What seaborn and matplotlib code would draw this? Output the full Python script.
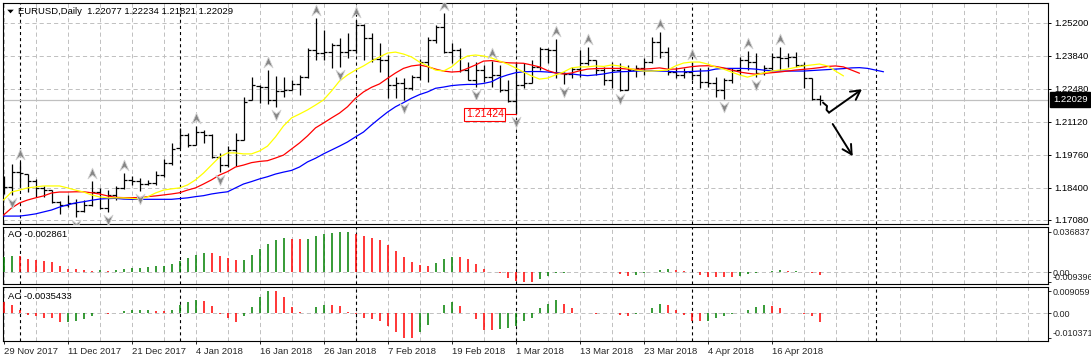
import numpy as np
import pandas as pd
import matplotlib
matplotlib.use("Agg")
import matplotlib.pyplot as plt
import seaborn as sns
from matplotlib.path import Path
from matplotlib.transforms import blended_transform_factory

sns.set_style("white")
plt.rcParams['font.family'] = ['Liberation Sans', 'DejaVu Sans']
plt.rcParams['lines.scale_dashes'] = False

# ---------------- data ----------------
symbol = "EURUSD"
timeframe = "Daily"

opens = [1.1864, 1.1844, 1.1905, 1.1897, 1.1868, 1.1840, 1.1831, 1.1782, 1.1770, 1.1778,
         1.1745, 1.1770, 1.1823, 1.1757, 1.1811, 1.1840, 1.1873, 1.1868, 1.1856, 1.1860,
         1.1893, 1.1942, 1.2004, 1.2058, 1.2017, 1.2070, 1.2058, 1.1967, 1.1934, 1.1996,
         1.2037, 1.2202, 1.2260, 1.2255, 1.2202, 1.2239, 1.2243, 1.2268, 1.2296, 1.2408,
         1.2395, 1.2399, 1.2428, 1.2399, 1.2408, 1.2510, 1.2457, 1.2370, 1.2366, 1.2264,
         1.2272, 1.2251, 1.2296, 1.2358, 1.2449, 1.2502, 1.2399, 1.2408, 1.2325, 1.2284,
         1.2325, 1.2296, 1.2305, 1.2243, 1.2198, 1.2264, 1.2272, 1.2338, 1.2412, 1.2408,
         1.2313, 1.2309, 1.2329, 1.2354, 1.2366, 1.2325, 1.2284, 1.2325, 1.2243, 1.2325,
         1.2333, 1.2358, 1.2441, 1.2399, 1.2317, 1.2305, 1.2317, 1.2305, 1.2276, 1.2272,
         1.2243, 1.2284, 1.2325, 1.2366, 1.2358, 1.2313, 1.2333, 1.2379, 1.2375, 1.2379,
         1.2346, 1.2292, 1.22077]
highs = [1.1889, 1.1938, 1.1947, 1.1897, 1.1877, 1.1848, 1.1831, 1.1786, 1.1811, 1.1794,
         1.1790, 1.1868, 1.1840, 1.1831, 1.1848, 1.1901, 1.1889, 1.1881, 1.1873, 1.1910,
         1.1959, 1.2025, 1.2087, 1.2066, 1.2095, 1.2078, 1.2062, 1.1984, 1.2012, 1.2066,
         1.2214, 1.2296, 1.2264, 1.2325, 1.2301, 1.2296, 1.2284, 1.2305, 1.2416, 1.2539,
         1.2490, 1.2436, 1.2457, 1.2478, 1.2531, 1.2515, 1.2478, 1.2436, 1.2387, 1.2296,
         1.2292, 1.2305, 1.2371, 1.2461, 1.2510, 1.2560, 1.2436, 1.2416, 1.2358, 1.2358,
         1.2346, 1.2362, 1.2346, 1.2284, 1.2358, 1.2354, 1.2366, 1.2420, 1.2416, 1.2453,
         1.2317, 1.2338, 1.2408, 1.2420, 1.2366, 1.2338, 1.2358, 1.2354, 1.2346, 1.2346,
         1.2375, 1.2461, 1.2482, 1.2420, 1.2338, 1.2334, 1.2358, 1.2334, 1.2338, 1.2296,
         1.2292, 1.2334, 1.2379, 1.2404, 1.2395, 1.2346, 1.2395, 1.2420, 1.2395, 1.2399,
         1.2358, 1.2292, 1.22234]
lows = [1.1815, 1.1811, 1.1844, 1.1823, 1.1803, 1.1803, 1.1778, 1.1733, 1.1761, 1.1720,
        1.1741, 1.1766, 1.1753, 1.1741, 1.1790, 1.1836, 1.1852, 1.1827, 1.1852, 1.1852,
        1.1885, 1.1934, 1.2004, 1.2008, 1.2017, 1.2025, 1.1963, 1.1905, 1.1926, 1.1930,
        1.2037, 1.2202, 1.2189, 1.2185, 1.2173, 1.2214, 1.2243, 1.2222, 1.2292, 1.2366,
        1.2366, 1.2334, 1.2338, 1.2375, 1.2395, 1.2366, 1.2358, 1.2317, 1.2210, 1.2210,
        1.2202, 1.2243, 1.2284, 1.2276, 1.2436, 1.2395, 1.2354, 1.2317, 1.2284, 1.2255,
        1.2276, 1.2255, 1.2235, 1.2194, 1.21424, 1.2251, 1.2272, 1.2325, 1.2354, 1.2292,
        1.2268, 1.2292, 1.2296, 1.2346, 1.2305, 1.2264, 1.2251, 1.2239, 1.2243, 1.2296,
        1.2305, 1.2354, 1.2375, 1.2305, 1.2292, 1.2292, 1.2284, 1.2251, 1.2255, 1.2214,
        1.2206, 1.2272, 1.2305, 1.2325, 1.2296, 1.2305, 1.2325, 1.2325, 1.2338, 1.2338,
        1.2251, 1.2202, 1.21821]
closes = [1.1844, 1.1905, 1.1901, 1.1868, 1.1840, 1.1831, 1.1782, 1.1770, 1.1778, 1.1745,
          1.1770, 1.1823, 1.1757, 1.1811, 1.1840, 1.1873, 1.1868, 1.1856, 1.1860, 1.1893,
          1.1942, 1.2000, 1.2058, 1.2017, 1.2070, 1.2058, 1.1967, 1.1934, 1.1996, 1.2037,
          1.2194, 1.2264, 1.2255, 1.2202, 1.2239, 1.2243, 1.2268, 1.2296, 1.2408, 1.2395,
          1.2399, 1.2428, 1.2399, 1.2408, 1.2510, 1.2457, 1.2370, 1.2366, 1.2264, 1.2272,
          1.2251, 1.2296, 1.2358, 1.2449, 1.2502, 1.2399, 1.2408, 1.2325, 1.2284, 1.2325,
          1.2296, 1.2305, 1.2243, 1.2198, 1.2264, 1.2272, 1.2338, 1.2412, 1.2408, 1.2313,
          1.2309, 1.2329, 1.2354, 1.2366, 1.2325, 1.2284, 1.2325, 1.2243, 1.2325, 1.2333,
          1.2358, 1.2441, 1.2399, 1.2317, 1.2305, 1.2317, 1.2305, 1.2276, 1.2272, 1.2243,
          1.2284, 1.2325, 1.2366, 1.2358, 1.2313, 1.2333, 1.2379, 1.2375, 1.2379, 1.2346,
          1.2292, 1.2206, 1.22029]

# Alligator lines (shifted into the future)
lips = [1.1790, 1.1823, 1.1831, 1.1840, 1.1844, 1.1848, 1.1848, 1.1848, 1.1840, 1.1831,
        1.1823, 1.1811, 1.1803, 1.1799, 1.1799, 1.1799, 1.1797, 1.1794, 1.1803, 1.1819,
        1.1831, 1.1836, 1.1840, 1.1852, 1.1873, 1.1901, 1.1934, 1.1967, 1.1984, 1.1984,
        1.1980, 1.1980, 1.1992, 1.2012, 1.2050, 1.2095, 1.2128, 1.2144, 1.2161, 1.2181,
        1.2202, 1.2239, 1.2280, 1.2305, 1.2325, 1.2342, 1.2362, 1.2379, 1.2395, 1.2399,
        1.2391, 1.2379, 1.2358, 1.2342, 1.2325, 1.2321, 1.2338, 1.2366, 1.2383, 1.2387,
        1.2383, 1.2375, 1.2362, 1.2350, 1.2334, 1.2317, 1.2301, 1.2288, 1.2292, 1.2305,
        1.2317, 1.2334, 1.2338, 1.2338, 1.2342, 1.2340, 1.2346, 1.2342, 1.2334, 1.2325,
        1.2321, 1.2321, 1.2323, 1.2325, 1.2342, 1.2354, 1.2358, 1.2358, 1.2350, 1.2338,
        1.2329, 1.2317, 1.2305, 1.2296, 1.2305, 1.2313, 1.2321, 1.2325, 1.2329, 1.2336,
        1.2342, 1.2346, 1.2350, 1.2342, 1.2321, 1.2301]
teeth = [1.1728, 1.1757, 1.1778, 1.1790, 1.1799, 1.1807, 1.1819, 1.1823, 1.1823, 1.1824,
         1.1824, 1.1820, 1.1815, 1.1807, 1.1801, 1.1800, 1.1800, 1.1800, 1.1804, 1.1807,
         1.1811, 1.1815, 1.1820, 1.1831, 1.1840, 1.1856, 1.1873, 1.1893, 1.1907, 1.1926,
         1.1934, 1.1944, 1.1949, 1.1952, 1.1963, 1.1975, 1.2000, 1.2025, 1.2054, 1.2087,
         1.2107, 1.2128, 1.2148, 1.2174, 1.2209, 1.2235, 1.2254, 1.2268, 1.2291, 1.2313,
         1.2332, 1.2342, 1.2346, 1.2339, 1.2329, 1.2321, 1.2317, 1.2319, 1.2332, 1.2346,
         1.2362, 1.2364, 1.2359, 1.2355, 1.2354, 1.2353, 1.2346, 1.2338, 1.2323, 1.2313,
         1.2309, 1.2313, 1.2322, 1.2329, 1.2331, 1.2332, 1.2332, 1.2332, 1.2329, 1.2328,
         1.2329, 1.2331, 1.2334, 1.2329, 1.2329, 1.2334, 1.2339, 1.2342, 1.2343, 1.2340,
         1.2334, 1.2325, 1.2317, 1.2312, 1.2308, 1.2311, 1.2314, 1.2317, 1.2321, 1.2325,
         1.2328, 1.2331, 1.2335, 1.2340, 1.2342, 1.2338, 1.2325, 1.2312]
jaw = [1.1724, 1.1724, 1.1724, 1.1728, 1.1733, 1.1741, 1.1749, 1.1761, 1.1770, 1.1778,
       1.1783, 1.1789, 1.1794, 1.1796, 1.1797, 1.1794, 1.1793, 1.1793, 1.1793, 1.1793,
       1.1793, 1.1793, 1.1796, 1.1799, 1.1804, 1.1808, 1.1815, 1.1820, 1.1824, 1.1840,
       1.1856, 1.1866, 1.1877, 1.1886, 1.1897, 1.1905, 1.1912, 1.1926, 1.1947, 1.1962,
       1.1980, 1.1996, 1.2012, 1.2029, 1.2050, 1.2070, 1.2099, 1.2126, 1.2152, 1.2174,
       1.2191, 1.2209, 1.2224, 1.2235, 1.2250, 1.2255, 1.2261, 1.2264, 1.2266, 1.2266,
       1.2270, 1.2277, 1.2294, 1.2305, 1.2314, 1.2318, 1.2319, 1.2319, 1.2317, 1.2314,
       1.2312, 1.2309, 1.2305, 1.2302, 1.2305, 1.2309, 1.2315, 1.2318, 1.2319, 1.2321,
       1.2321, 1.2322, 1.2321, 1.2320, 1.2318, 1.2318, 1.2319, 1.2321, 1.2322, 1.2329,
       1.2332, 1.2332, 1.2332, 1.2331, 1.2329, 1.2325, 1.2322, 1.2321, 1.2321, 1.2321,
       1.2321, 1.2323, 1.2325, 1.2327, 1.2329, 1.2331, 1.2334, 1.2335, 1.2332, 1.2325,
       1.2318]

ao = [0.0138, 0.0147, 0.0144, 0.0120, 0.0114, 0.0101, 0.0092, 0.0055, 0.0031, 0.0025,
      0.0018, 0.0015, 0.0021, 0.0009, 0.0021, 0.0028, 0.0037, 0.0040, 0.0049, 0.0055,
      0.0058, 0.0077, 0.0104, 0.0129, 0.0157, 0.0178, 0.0175, 0.0147, 0.0132, 0.0111,
      0.0114, 0.0157, 0.0215, 0.0261, 0.0292, 0.0313, 0.0307, 0.0301, 0.0304, 0.0332,
      0.0353, 0.0359, 0.0366, 0.036837, 0.0353, 0.0335, 0.0313, 0.0298, 0.0252, 0.0193,
      0.0138, 0.0092, 0.0068, 0.0052, 0.0086, 0.0117, 0.0138, 0.0136, 0.0117, 0.0077,
      0.0031, 0.0006, -0.0012, -0.0052, -0.0080, -0.0090, -0.009396, -0.0061, -0.0031, -0.0012,
      -0.0004, 0.0002, 0.0004, 0.0003, 0.0001, 0.0003, 0.0004, -0.0015, -0.0035, -0.0022,
      -0.0012, 0.0000, 0.0020, 0.0028, 0.0021, 0.0009, -0.0001, -0.0025, -0.0040, -0.0041,
      -0.0046, -0.0047, -0.0037, -0.0015, -0.0006, 0.0000, 0.0009, 0.0018, 0.0009, 0.0010,
      0.0006, -0.0005, -0.002861]
ac = [0.0045, 0.0033, 0.0014, -0.0007, -0.0014, -0.0019, -0.0022, -0.0036, -0.0035, -0.0034,
      -0.0026, -0.0014, -0.0002, -0.0004, 0.0002, 0.0010, 0.0011, 0.0012, 0.0014, 0.0010,
      0.0009, 0.0014, 0.0032, 0.0045, 0.0055, 0.0050, 0.0027, -0.0003, -0.0019, -0.0036,
      -0.0014, 0.0023, 0.0066, 0.009059, 0.0089, 0.0066, 0.0024, 0.0003, 0.0001, 0.0023,
      0.0032, 0.0031, 0.0027, 0.0006, -0.0005, -0.0020, -0.0024, -0.0033, -0.0052, -0.0079,
      -0.0101, -0.010371, -0.0079, -0.0049, 0.0001, 0.0035, 0.0045, 0.0027, 0.0000, -0.0024,
      -0.0070, -0.0071, -0.0065, -0.0063, -0.0053, -0.0032, -0.0019, 0.0019, 0.0036, 0.0055,
      0.0036, 0.0019, 0.0001, 0.0000, -0.0004, -0.0002, -0.0001, -0.0007, -0.0014, -0.0006,
      0.0000, 0.0019, 0.0036, 0.0032, 0.0014, -0.0010, -0.0032, -0.0033, -0.0031, -0.0022,
      -0.0013, -0.0004, 0.0001, 0.0014, 0.0026, 0.0032, 0.0029, 0.0019, 0.0001, 0.0000,
      -0.0003, -0.0013, -0.0035433]

fractal_up_bars = [2, 11, 15, 24, 33, 39, 44, 55, 61, 69, 73, 82, 86, 93, 97]
fractal_down_bars = [1, 9, 13, 17, 27, 34, 42, 50, 59, 64, 70, 77, 90, 94]

date_labels = ["29 Nov 2017", "11 Dec 2017", "21 Dec 2017", "4 Jan 2018", "16 Jan 2018",
               "26 Jan 2018", "7 Feb 2018", "19 Feb 2018", "1 Mar 2018", "13 Mar 2018",
               "23 Mar 2018", "4 Apr 2018", "16 Apr 2018"]
date_label_bars = [0, 8, 16, 24, 32, 40, 48, 56, 64, 72, 80, 88, 96]
month_start_bars = [2, 22, 44, 64, 86, 109]

price_levels = [1.25200, 1.23840, 1.22480, 1.21120, 1.19760, 1.18400, 1.17080]
last_price = 1.22029
low_mark_bar = 64
low_mark_price = 1.21424
ao_levels = [0.036837, 0.0, -0.009396]
ac_levels = [0.009059, 0.0, -0.010371]

# hand-drawn annotation strokes (bar index, price)
squiggle_bars = [102.44, 102.94, 102.88, 103.19]
squiggle_prices = [1.2191, 1.2177, 1.2161, 1.2150]
arrow_up_tip = (107.31, 1.2246)
arrow_down_start = (103.65, 1.2103)
arrow_down_tip = (106.15, 1.1971)

# ---------------- style ----------------
GRID = "#C0C0C0"
GREEN = "#008000"
RED = "#FF0000"
FS = 6.8
FS_OSC = 6.5
GRID_LS = (0, (3.0, 2.2))
SEP_LS = (0, (2.2, 2.2))

W, H = 1091.0, 357.0
fig = plt.figure(figsize=(W / 100, H / 100), dpi=100)
fig.patch.set_facecolor("white")


def rect(left, top, right, bottom):
    return [left / W, 1 - bottom / H, (right - left) / W, (bottom - top) / H]


ax = fig.add_axes(rect(3, 3, 1048, 224))
ax_ao = fig.add_axes(rect(3, 227, 1048, 284))
ax_ac = fig.add_axes(rect(3, 287, 1048, 341))

XL = (-0.0625, 130.5625)
grid_bars = np.arange(0, 131, 4)

for a in (ax, ax_ao, ax_ac):
    a.set_xlim(*XL)
    a.set_facecolor("white")
    for s in a.spines.values():
        s.set_color("black")
        s.set_linewidth(0.8)
    a.vlines(grid_bars, 0, 1, transform=a.get_xaxis_transform(), colors=GRID,
             linestyles=[GRID_LS], lw=0.7, zorder=0)
    for m in month_start_bars:
        a.axvline(m, color="black", lw=0.8, ls=SEP_LS, zorder=1)
    a.tick_params(axis="x", bottom=False, labelbottom=False)

# ---------------- main price panel ----------------
ax.set_ylim(1.16914, 1.26011)
for lv in price_levels:
    ax.axhline(lv, color=GRID, lw=0.7, ls=GRID_LS, zorder=0)
ax.axhline(last_price, color="#C0C0C0", lw=0.9, zorder=1)

xb = np.arange(len(opens))
tick = 0.4
ax.vlines(xb, lows, highs, colors="black", lw=0.9, zorder=3)
ax.hlines(opens, xb - tick, xb, colors="black", lw=0.9, zorder=3)
ax.hlines(closes, xb, xb + tick, colors="black", lw=0.9, zorder=3)

ma = pd.concat([
    pd.DataFrame({"bar": np.arange(len(jaw)), "value": jaw, "line": "jaw"}),
    pd.DataFrame({"bar": np.arange(len(teeth)), "value": teeth, "line": "teeth"}),
    pd.DataFrame({"bar": np.arange(len(lips)), "value": lips, "line": "lips"}),
], ignore_index=True)
sns.lineplot(data=ma, x="bar", y="value", hue="line", hue_order=["jaw", "teeth", "lips"],
             palette={"jaw": "#0000FF", "teeth": "#FF0000", "lips": "#FFFF00"},
             linewidth=0.9, legend=False, estimator=None, sort=False, ax=ax, zorder=4)
ax.set_xlabel("")
ax.set_ylabel("")
ax.set_xlim(*XL)

# fractal arrows
up_marker = Path([(0, 0.5), (0.42, -0.5), (0, -0.15), (-0.42, -0.5), (0, 0.5)],
                 [Path.MOVETO, Path.LINETO, Path.LINETO, Path.LINETO, Path.CLOSEPOLY])
down_marker = Path([(0, -0.5), (0.42, 0.5), (0, 0.15), (-0.42, 0.5), (0, -0.5)],
                   [Path.MOVETO, Path.LINETO, Path.LINETO, Path.LINETO, Path.CLOSEPOLY])
off = 0.0033
hi = np.array(highs)
lo = np.array(lows)
ax.scatter(fractal_up_bars, hi[fractal_up_bars] + off, marker=up_marker, s=60,
           c="#858585", edgecolors="#D2D2D2", linewidths=0.6, zorder=6)
ax.scatter(fractal_down_bars, lo[fractal_down_bars] - off, marker=down_marker, s=60,
           c="#858585", edgecolors="#D2D2D2", linewidths=0.6, zorder=6)

# low price label
ax.plot([62.75, low_mark_bar], [low_mark_price, low_mark_price], color=RED, lw=0.8, zorder=7)
ax.text(62.55, low_mark_price, f"{low_mark_price:.5f}", ha="right", va="center",
        fontsize=7.5, color=RED, zorder=8,
        bbox=dict(boxstyle="square,pad=0.15", fc="white", ec=RED, lw=0.8))

# hand drawn arrows
ax.plot(squiggle_bars, squiggle_prices, color="black", lw=1.4, zorder=8,
        solid_capstyle="round", solid_joinstyle="round")
ax.annotate("", xy=arrow_up_tip, xytext=(squiggle_bars[-1], squiggle_prices[-1]),
            arrowprops=dict(arrowstyle="->,head_length=0.55,head_width=0.3", color="black",
                            lw=1.4, shrinkA=0, shrinkB=0, mutation_scale=12), zorder=8)
ax.annotate("", xy=arrow_down_tip, xytext=arrow_down_start,
            arrowprops=dict(arrowstyle="->,head_length=0.55,head_width=0.3", color="black",
                            lw=1.4, shrinkA=0, shrinkB=0, mutation_scale=12), zorder=8)

# right price axis
ax.yaxis.tick_right()
ax.set_yticks(price_levels)
ax.set_yticklabels([f"{v:.5f}" for v in price_levels])
ax.tick_params(axis="y", direction="out", length=2.5, width=0.7, pad=2, labelsize=FS,
               colors="black")
trans = blended_transform_factory(ax.transAxes, ax.transData)
ax.text(1.0048, last_price, f"{last_price:.5f}", transform=trans, ha="left", va="center",
        fontsize=FS, color="white", clip_on=False, zorder=10,
        bbox=dict(boxstyle="square,pad=0.3", fc="black", ec="black"))

# header
tri = Path([(-0.5, 0.28), (0.5, 0.28), (0, -0.28), (-0.5, 0.28)],
           [Path.MOVETO, Path.LINETO, Path.LINETO, Path.CLOSEPOLY])
ax.scatter([0.0067], [0.9638], transform=ax.transAxes, marker=tri, s=22, c="black",
           linewidths=0, zorder=9)
header = f"{symbol},{timeframe}  " + " ".join(
    f"{v:.5f}" for v in (opens[-1], highs[-1], lows[-1], closes[-1]))
ax.text(0.0144, 0.9638, header, transform=ax.transAxes, ha="left", va="center",
        fontsize=FS, color="black", zorder=9)


# ---------------- oscillator panels ----------------
def bar_colors(vals, first):
    cols = [first]
    for i in range(1, len(vals)):
        cols.append(GREEN if vals[i] > vals[i - 1] else RED)
    return cols


def fmt_level(v):
    return "0.00" if v == 0 else f"{v:.6f}"


for a, vals, levels, lim, first, name in (
        (ax_ao, ao, ao_levels, (-0.0108, 0.0413), GREEN, "AO"),
        (ax_ac, ac, ac_levels, (-0.01153, 0.01071), RED, "AC")):
    a.set_ylim(*lim)
    a.axhline(0, color=GRID, lw=0.7, ls=GRID_LS, zorder=0)
    xs = np.arange(len(vals))
    a.vlines(xs, 0, vals, colors=bar_colors(vals, first), lw=1.1, zorder=3)
    a.yaxis.tick_right()
    a.set_yticks(levels)
    a.set_yticklabels([fmt_level(v) for v in levels])
    a.tick_params(axis="y", direction="out", length=2.0, width=0.7, pad=1.2,
                  labelsize=FS_OSC)
    labs = a.get_yticklabels()
    labs[-1].set_va("bottom")
    val_txt = f"{vals[-1]:.6f}" if name == "AO" else f"{vals[-1]:.7f}"
    a.text(0.0048, 0.86 if name == "AO" else 0.815, f"{name} {val_txt}",
           transform=a.transAxes, ha="left", va="center", fontsize=FS, color="black")

ax_ac.tick_params(axis="x", bottom=True, labelbottom=True, direction="out", length=2.5,
                  width=0.7, pad=2, labelsize=FS)
ax_ac.set_xticks(date_label_bars)
ax_ac.set_xticklabels(date_labels, ha="left")

fig.savefig("out.png", dpi=100, facecolor="white")
